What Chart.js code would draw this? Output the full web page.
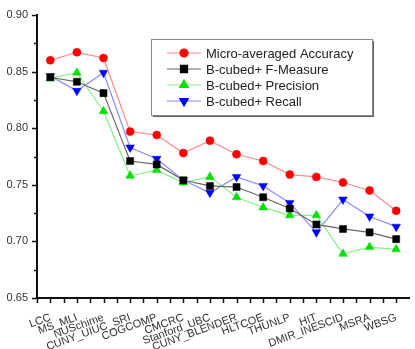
<!DOCTYPE html>
<html>
<head>
<meta charset="utf-8">
<script src="https://cdn.jsdelivr.net/npm/chart.js@4.4.0/dist/chart.umd.min.js"></script>
<style>
  html, body { margin: 0; padding: 0; background: #fff; }
</style>
</head>
<body>
<canvas id="chart" width="415" height="349"></canvas>
<script>
// Data
const systems = ['LCC', 'MS_MLI', 'NUSchime', 'CUNY_UIUC_SRI', 'COGCOMP', 'CMCRC', 'Stanford_UBC',
  'CUNY_BLENDER', 'HLTCOE', 'THUNLP', 'HIT', 'DMIR_INESCID', 'MSRA', 'WBSG'];
const accuracy  = [0.860, 0.867, 0.862, 0.797, 0.794, 0.778, 0.789, 0.777, 0.771, 0.759, 0.757, 0.752, 0.745, 0.727];
const fMeasure  = [0.845, 0.841, 0.831, 0.771, 0.768, 0.754, 0.749, 0.748, 0.739, 0.729, 0.715, 0.711, 0.708, 0.702];
const precision = [0.844, 0.849, 0.815, 0.758, 0.763, 0.752, 0.757, 0.739, 0.730, 0.723, 0.723, 0.689, 0.695, 0.693];
const recall    = [0.846, 0.833, 0.849, 0.783, 0.773, 0.754, 0.743, 0.757, 0.749, 0.734, 0.708, 0.737, 0.722, 0.713];
const yMin = 0.65, yMax = 0.90, yStep = 0.05;

const font = "'Liberation Sans', Arial, sans-serif";

function series(label, data, line, mark, style, radius, rotation) {
  return {
    label, data,
    borderColor: line,
    borderWidth: 1.2,
    backgroundColor: mark,
    pointBackgroundColor: mark,
    pointBorderColor: mark,
    pointBorderWidth: 0.5,
    pointStyle: style,
    pointRadius: radius,
    pointRotation: rotation || 0,
    tension: 0,
    fill: false
  };
}

// tick marks on both axes (major + minor)
const axisTicks = {
  id: 'axisTicks',
  afterDraw(chart) {
    const { ctx, scales: { x, y } } = chart;
    ctx.save();
    ctx.strokeStyle = '#111';
    ctx.lineWidth = 1.5;
    ctx.beginPath();
    for (let i = 0; i <= (yMax - yMin) / (yStep / 2) + 0.001; i++) {
      const v = yMin + i * yStep / 2;
      const py = Math.round(y.getPixelForValue(v)) + 0.5;
      const len = i % 2 === 0 ? 5 : 3;
      ctx.moveTo(x.left - len, py);
      ctx.lineTo(x.left, py);
    }
    const half = (x.getPixelForValue(1) - x.getPixelForValue(0)) / 2;
    for (let i = 0; i < systems.length; i++) {
      const px = x.getPixelForValue(i);
      [px - half, px].forEach(p => {
        ctx.moveTo(Math.round(p) + 0.5, y.bottom);
        ctx.lineTo(Math.round(p) + 0.5, y.bottom + 5);
      });
    }
    ctx.stroke();
    ctx.restore();
  }
};

// boxed legend inside the plot
const boxLegend = {
  id: 'boxLegend',
  afterDraw(chart) {
    const ctx = chart.ctx;
    const bx = 151, by = 39, bw = 221, bh = 76;
    ctx.save();
    ctx.fillStyle = '#666';
    ctx.fillRect(bx + 2, by + 2, bw, bh);
    ctx.fillStyle = '#fff';
    ctx.fillRect(bx, by, bw, bh);
    ctx.strokeStyle = '#888';
    ctx.lineWidth = 1;
    ctx.strokeRect(bx + 0.5, by + 0.5, bw, bh);
    ctx.font = '13px ' + font;
    ctx.textBaseline = 'middle';
    chart.data.datasets.forEach((ds, i) => {
      const ry = by + 14 + i * 16;
      ctx.strokeStyle = ds.borderColor;
      ctx.lineWidth = 1.2;
      ctx.beginPath();
      ctx.moveTo(bx + 16, ry);
      ctx.lineTo(bx + 50, ry);
      ctx.stroke();
      ctx.fillStyle = ds.pointBackgroundColor;
      ctx.strokeStyle = ds.pointBorderColor;
      Chart.helpers.drawPoint(ctx, {
        pointStyle: ds.pointStyle, rotation: ds.pointRotation,
        radius: ds.pointRadius, borderWidth: 0.5
      }, bx + 33, ry);
      ctx.fillStyle = '#222';
      ctx.fillText(ds.label, bx + 55, ry + 1);
    });
    ctx.restore();
  }
};

new Chart(document.getElementById('chart'), {
  type: 'line',
  data: {
    labels: systems,
    datasets: [
      series('Micro-averaged Accuracy', accuracy, '#ff8a8a', '#ff0000', 'circle', 4),
      series('B-cubed+ F-Measure', fMeasure, '#666666', '#000000', 'rect', 5),
      series('B-cubed+ Precision', precision, '#88f088', '#00e000', 'triangle', 5),
      series('B-cubed+ Recall', recall, '#8a8aff', '#0000ff', 'triangle', 5, 180)
    ]
  },
  options: {
    responsive: false,
    animation: false,
    layout: { padding: { top: 15, right: 0, left: 0, bottom: 0 } },
    plugins: { legend: { display: false }, tooltip: { enabled: false } },
    scales: {
      x: {
        offset: true,
        grid: { display: false },
        border: { display: true, color: '#111', width: 2 },
        ticks: {
          autoSkip: false, minRotation: 20, maxRotation: 20, padding: 5,
          color: '#333', font: { family: font, size: 11 }
        },
        afterFit(scale) { scale.height = 51; scale.paddingLeft = 0; scale.paddingRight = 0; }
      },
      y: {
        min: yMin, max: yMax,
        grid: { display: false },
        border: { display: true, color: '#111', width: 2 },
        ticks: {
          stepSize: yStep, padding: 1, color: '#333',
          font: { family: font, size: 11 },
          callback: v => v.toFixed(2)
        },
        afterFit(scale) { scale.width = 37; }
      }
    }
  },
  plugins: [axisTicks, boxLegend]
});
</script>
</body>
</html>
